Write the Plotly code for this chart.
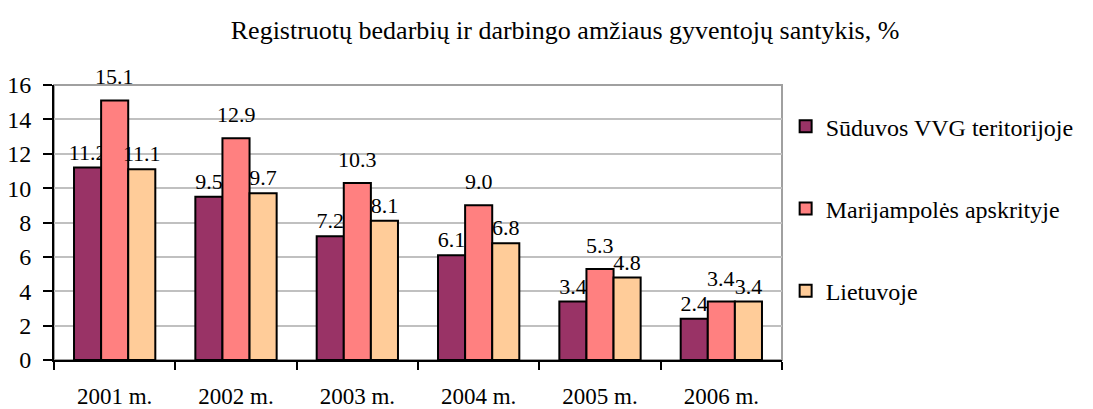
import plotly.graph_objects as go

# Data
years = ['2001 m.', '2002 m.', '2003 m.', '2004 m.', '2005 m.', '2006 m.']
suduvos = [11.2, 9.5, 7.2, 6.1, 3.4, 2.4]
marijampoles = [15.1, 12.9, 10.3, 9.0, 5.3, 3.4]
lietuvoje = [11.1, 9.7, 8.1, 6.8, 4.8, 3.4]

series = [
    ('Sūduvos VVG teritorijoje', suduvos, '#993366'),
    ('Marijampolės apskrityje', marijampoles, '#FF8080'),
    ('Lietuvoje', lietuvoje, '#FFCC99'),
]

font = "'Liberation Serif', 'Times New Roman', serif"

fig = go.Figure()

for i, (name, vals, color) in enumerate(series):
    # middle series gets its labels as annotations (they sit higher in the original)
    labels = [f'{v:.1f}' for v in vals] if i != 1 else None
    fig.add_trace(go.Bar(
        x=years, y=vals, name=name,
        marker=dict(color=color, line=dict(color='black', width=2)),
        text=labels,
        textposition='outside',
        constraintext='none',
        textfont=dict(family=font, size=22, color='black'),
        cliponaxis=False,
        legendgroup=f'g{i}',
    ))

for yr, v in zip(years, marijampoles):
    fig.add_annotation(
        x=yr, y=v, xref='x', yref='y', text=f'{v:.1f}',
        showarrow=False, yanchor='bottom', yshift=9,
        font=dict(family=font, size=22, color='black'),
    )

fig.update_layout(
    width=1093, height=409,
    margin=dict(l=54, r=311, t=85, b=49, autoexpand=False),
    paper_bgcolor='white',
    plot_bgcolor='white',
    barmode='group',
    bargap=0.33,
    bargroupgap=0,
    font=dict(family=font, size=22, color='black'),
    title=dict(
        text='Registruotų bedarbių ir darbingo amžiaus gyventojų santykis, %',
        x=0.517, xanchor='center', y=0.927, yanchor='middle',
        font=dict(family=font, size=26, color='black'),
    ),
    legend=dict(
        x=1.005, xanchor='left', y=0.93, yanchor='top',
        traceorder='grouped', tracegroupgap=48,
        font=dict(family=font, size=24, color='black'),
        bgcolor='rgba(0,0,0,0)',
    ),
    xaxis=dict(
        showline=True, linecolor='black', linewidth=2,
        ticks='outside', tickson='boundaries', ticklen=8,
        tickcolor='black', tickwidth=2,
        ticklabelstandoff=14,
        showgrid=False, automargin=False,
        tickfont=dict(family=font, size=23),
    ),
    yaxis=dict(
        range=[0, 16], dtick=2,
        showline=True, linecolor='black', linewidth=2,
        ticks='outside', ticklen=9, tickcolor='black', tickwidth=2,
        ticklabelstandoff=7,
        showgrid=True, gridcolor='#c0c0c0', gridwidth=2,
        zeroline=False, automargin=False,
        tickfont=dict(family=font, size=24),
    ),
    shapes=[dict(
        type='rect', xref='paper', yref='paper', x0=0, y0=0, x1=1, y1=1,
        line=dict(color='#a0a0a0', width=2), layer='below',
    )],
)

fig.write_html('out.html', config={'displayModeBar': False},
               post_script="document.body.style.margin='0';")
